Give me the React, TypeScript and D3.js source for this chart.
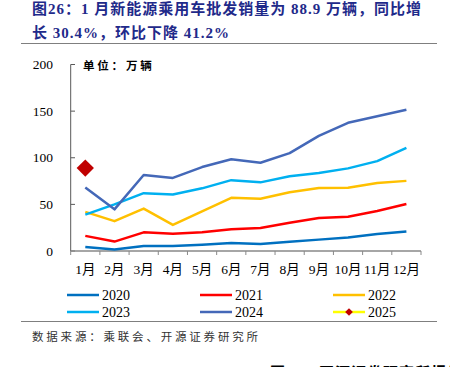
import React from "react";
import * as d3 from "d3";

const months = ["1月", "2月", "3月", "4月", "5月", "6月", "7月", "8月", "9月", "10月", "11月", "12月"];
const s2020 = [4.4, 1.5, 5.4, 5.4, 6.8, 8.6, 7.6, 9.8, 12.2, 14.6, 18.3, 20.8];
const s2021 = [16.2, 10.1, 20.0, 18.6, 20.0, 23.4, 24.6, 30.2, 35.5, 36.8, 42.9, 50.4];
const s2022 = [42.0, 32.0, 45.5, 28.0, 42.5, 57.0, 56.0, 63.0, 67.5, 67.8, 73.0, 75.2];
const s2023 = [39.0, 50.0, 62.0, 60.6, 67.2, 76.0, 73.6, 80.2, 83.6, 88.6, 96.4, 110.6];
const s2024 = [68.0, 44.7, 81.5, 78.4, 90.0, 98.4, 94.6, 105.0, 123.5, 137.5, 144.5, 151.5];
const s2025 = [88.9];
const yTicks = [0, 50, 100, 150, 200];
const seriesNames = ["2020", "2021", "2022", "2023", "2024", "2025"];
const seriesColors = ["#0070C0", "#FF0000", "#FFC000", "#00B0F0", "#4468B8", "#FFFF00"];

const TITLE1 = "图26：1 月新能源乘用车批发销量为 88.9 万辆，同比增";
const TITLE2 = "长 30.4%，环比下降 41.2%";
const UNIT = "单位：万辆";
const SOURCE = "数据来源：乘联会、开源证券研究所";
const NEXT = "图27：开源证券研究所报告";

const FONT = "'Times New Roman', 'Liberation Serif', 'Noto Sans CJK SC', serif";

export default function App() {
  const W = 450, H = 367;
  const x = d3.scaleBand<string>().domain(months).range([70.7, 421]);
  const y = d3.scaleLinear().domain([0, 200]).range([251, 64.5]);
  const cx = (m: string) => (x(m) as number) + x.bandwidth() / 2;
  const line = d3.line<number>().x((_, i) => cx(months[i])).y((d) => y(d));
  const lines = [s2020, s2021, s2022, s2023, s2024];
  const diamond = d3.symbol().type(d3.symbolSquare).size(150)() as string;
  const diamondSmall = d3.symbol().type(d3.symbolSquare).size(30)() as string;

  const legendCols = [67, 200, 333];
  const legendRows = [295, 312];

  return (
    <svg width={W} height={H} style={{ position: "absolute", left: 0, top: 0, background: "#fff" }}>
      <text x={32} y={14} fontFamily={FONT} fontWeight="bold" fontSize={15} fill="#1F2A8A" letterSpacing={1}>{TITLE1}</text>
      <text x={32} y={38} fontFamily={FONT} fontWeight="bold" fontSize={15} fill="#1F2A8A" letterSpacing={1}>{TITLE2}</text>
      <line x1={21} x2={437} y1={43.5} y2={43.5} stroke="#7f7f7f" strokeWidth={1} />

      <text x={83} y={70} fontFamily={FONT} fontWeight="bold" fontSize={11.5} letterSpacing={2.8} fill="#000">{UNIT}</text>

      {/* y axis */}
      <line x1={70.7} x2={70.7} y1={y(200)} y2={y(0)} stroke="#595959" strokeWidth={1} />
      {yTicks.map((t) => (
        <g key={t}>
          <line x1={70.7} x2={75} y1={y(t)} y2={y(t)} stroke="#595959" strokeWidth={1} />
          <text x={53} y={y(t) + 4.5} textAnchor="end" fontFamily={FONT} fontSize={13.5} fill="#000">{t}</text>
        </g>
      ))}

      {/* x axis */}
      <line x1={70.7} x2={421} y1={251} y2={251} stroke="#898989" strokeWidth={1.5} />
      {months.map((m, i) => (
        <line key={"t" + i} x1={x(m) as number} x2={x(m) as number} y1={251} y2={255} stroke="#898989" strokeWidth={1} />
      ))}
      <line x1={421} x2={421} y1={251} y2={255} stroke="#898989" strokeWidth={1} />
      {months.map((m) => (
        <text key={m} x={cx(m)} y={274} textAnchor="middle" fontFamily={FONT} fontSize={13.5} fill="#000">{m}</text>
      ))}

      {lines.map((s, i) => (
        <path key={i} d={line(s) as string} fill="none" stroke={seriesColors[i]} strokeWidth={2.5} strokeLinejoin="round" />
      ))}
      {s2025.map((v, i) => (
        <path key={"d" + i} d={diamond} transform={`translate(${cx(months[i])},${y(v)}) rotate(45)`} fill="#C00000" />
      ))}

      {/* legend */}
      {seriesNames.map((n, i) => {
        const lx = legendCols[i % 3];
        const ly = legendRows[Math.floor(i / 3)];
        return (
          <g key={n}>
            <line x1={lx} x2={lx + 32} y1={ly} y2={ly} stroke={seriesColors[i]} strokeWidth={2.5} />
            {n === "2025" && <path d={diamondSmall} transform={`translate(${lx + 16},${ly}) rotate(45)`} fill="#C00000" />}
            <text x={lx + 35} y={ly + 5} fontFamily={FONT} fontSize={14} fill="#000">{n}</text>
          </g>
        );
      })}

      <line x1={21} x2={437} y1={321.5} y2={321.5} stroke="#7f7f7f" strokeWidth={1} />
      <text x={32} y={341} fontFamily={FONT} fontSize={11.5} letterSpacing={2.8} fill="#333">{SOURCE}</text>
      <text x={270} y={378} fontFamily={FONT} fontWeight="bold" fontSize={15} letterSpacing={1} fill="#000">{NEXT}</text>
    </svg>
  );
}
